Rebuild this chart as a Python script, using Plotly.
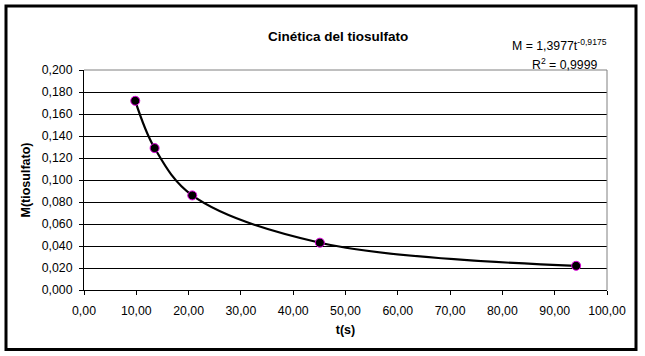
import plotly.graph_objects as go

t_values = [9.8, 13.5, 20.7, 45.1, 94.1]
m_values = [0.172, 0.129, 0.086, 0.043, 0.022]

x_ticks = [0, 10, 20, 30, 40, 50, 60, 70, 80, 90, 100]
x_ticktext = ["0,00", "10,00", "20,00", "30,00", "40,00", "50,00", "60,00", "70,00", "80,00", "90,00", "100,00"]
y_ticks = [0, 0.02, 0.04, 0.06, 0.08, 0.10, 0.12, 0.14, 0.16, 0.18, 0.20]
y_ticktext = ["0,000", "0,020", "0,040", "0,060", "0,080", "0,100", "0,120", "0,140", "0,160", "0,180", "0,200"]

W, H = 645, 356
L, R, T, B = 84, 38, 70, 66
pw, ph = W - L - R, H - T - B

def px(x):
    return (x - L) / pw

def py(y):
    return (H - B - y) / ph

fig = go.Figure()
fig.add_trace(go.Scatter(
    x=t_values, y=m_values, mode="lines",
    line=dict(color="black", width=2.2, shape="spline", smoothing=1.0),
    hoverinfo="skip", showlegend=False,
))
fig.add_trace(go.Scatter(
    x=t_values, y=m_values, mode="markers",
    marker=dict(color="black", size=9, line=dict(color="#e000e0", width=1)),
    showlegend=False,
))

font = "Liberation Sans, Arial, sans-serif"
fig.update_layout(
    width=W, height=H,
    margin=dict(l=L, r=R, t=T, b=B),
    paper_bgcolor="white", plot_bgcolor="white",
    font=dict(family=font, size=12, color="black"),
    xaxis=dict(
        range=[0, 100], tickvals=x_ticks, ticktext=x_ticktext,
        showgrid=False, zeroline=False,
        showline=True, linecolor="black", linewidth=1,
        ticks="outside", ticklen=4, tickcolor="black",
        tickfont=dict(size=12.3), ticklabelstandoff=5,
        title=dict(text="<b>t(s)</b>", font=dict(size=12.5), standoff=8),
        automargin=False,
    ),
    yaxis=dict(
        range=[0, 0.2], tickvals=y_ticks, ticktext=y_ticktext,
        showgrid=True, gridcolor="black", gridwidth=1, zeroline=False,
        showline=True, linecolor="black", linewidth=1,
        ticks="outside", ticklen=4, tickcolor="black",
        tickfont=dict(size=12.3), ticklabelstandoff=4,
        title=dict(text="<b>M(tiosulfato)</b>", font=dict(size=12.5), standoff=8),
        automargin=False,
    ),
    shapes=[
        dict(type="line", xref="paper", yref="paper", x0=0, x1=1, y0=1, y1=1,
             line=dict(color="#808080", width=1)),
        dict(type="line", xref="paper", yref="paper", x0=1, x1=1, y0=0, y1=1,
             line=dict(color="#808080", width=1)),
        dict(type="rect", xref="paper", yref="paper",
             x0=px(6), x1=px(636), y0=py(349.5), y1=py(6),
             line=dict(color="black", width=3)),
    ],
    annotations=[
        dict(text="<b>Cinética del tiosulfato</b>", xref="paper", yref="paper",
             x=px(338), y=py(27), showarrow=False, font=dict(size=13.5)),
        dict(text="M = 1,3977t<sup>-0,9175</sup>", xref="paper", yref="paper",
             x=px(609), y=py(35), xanchor="right", showarrow=False, font=dict(size=12.3)),
        dict(text="R<sup>2</sup> = 0,9999", xref="paper", yref="paper",
             x=px(599), y=py(54), xanchor="right", showarrow=False, font=dict(size=12.3)),
    ],
)

fig.write_html("out.html", config={"displayModeBar": False},
               post_script="document.body.style.margin='0';")
